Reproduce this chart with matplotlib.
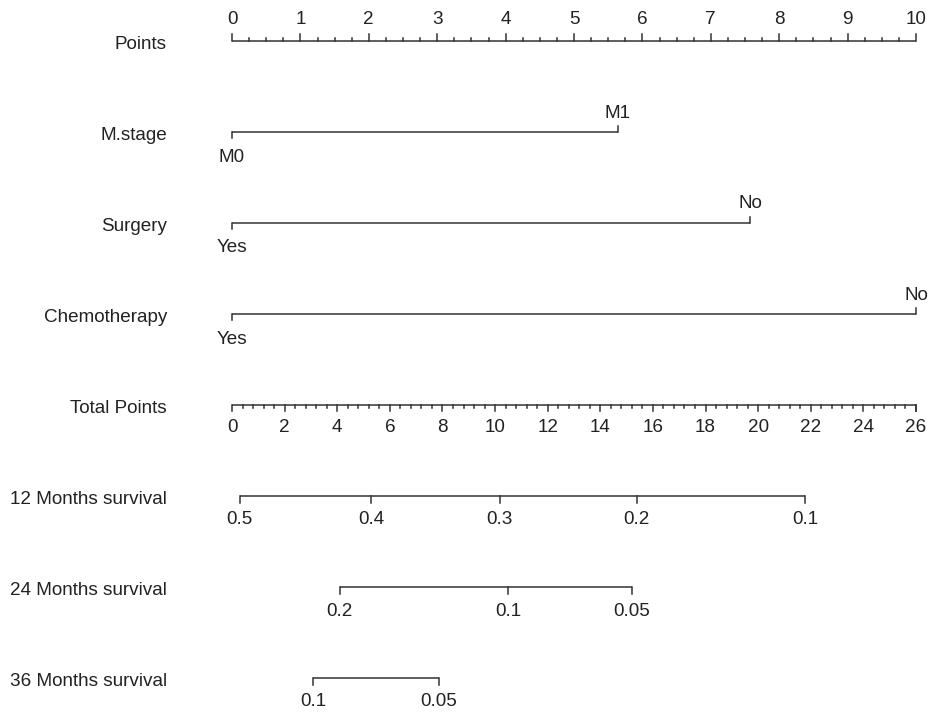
import numpy as np
import matplotlib.pyplot as plt

plt.rcParams['font.family'] = ['Liberation Sans', 'DejaVu Sans']

# nomogram data (points scale 0-10, total points scale 0-26)
row_names = ['Points', 'M.stage', 'Surgery', 'Chemotherapy', 'Total Points',
             '12 Months survival', '24 Months survival', '36 Months survival']

points_ticks = np.arange(0, 11)
total_ticks = np.arange(0, 27, 2)

mstage_levels = ['M0', 'M1']
mstage_points = [0, 5.64]
surgery_levels = ['Yes', 'No']
surgery_points = [0, 7.58]
chemo_levels = ['Yes', 'No']
chemo_points = [0, 10]

surv12_labels = ['0.5', '0.4', '0.3', '0.2', '0.1']
surv12_total = [0.29, 5.28, 10.18, 15.38, 21.78]
surv24_labels = ['0.2', '0.1', '0.05']
surv24_total = [4.09, 10.49, 15.2]
surv36_labels = ['0.1', '0.05']
surv36_total = [3.08, 7.86]

W, H = 935, 715
fig = plt.figure(figsize=(W / 100, H / 100), dpi=100)
# axes spans Points 0..10 horizontally, row 0..7 vertically
ax = fig.add_axes([232 / W, 1 - 678 / H, (916 - 232) / W, (678 - 41) / H])
ax.set_xlim(0, 10)
ax.set_ylim(7, 0)
ax.axis('off')

lc = '#333333'
tc = '#222222'
fs = 13.6
lw = 1.1
px = 7 / 637  # one pixel in row units
tot2pts = 10 / 26


def hline(y, x0, x1):
	ax.plot([x0, x1], [y, y], color=lc, lw=lw, clip_on=False, solid_capstyle='butt')


def tick(y, x, length):
	ax.plot([x, x], [y, y + length * px], color=lc, lw=lw, clip_on=False)


def label(y, x, s, dy):
	ax.text(x, y + dy * px, s, ha='center', va='center', fontsize=fs, color=tc, clip_on=False)


# row names
for i, name in enumerate(row_names):
	ax.text(-(232 - 167) / 68.4, i + 3.5 * px, name, ha='right', va='center',
			fontsize=fs, color=tc, clip_on=False)

# Points axis
hline(0, 0, 10)
for v in np.arange(0, 10.01, 0.25):
	major = abs(v - round(v)) < 1e-9
	tick(0, v, -7 if major else -3.5)
for v in points_ticks:
	label(0, v, str(v), -21)

# categorical variables
for row, levels, pts in [(1, mstage_levels, mstage_points),
						 (2, surgery_levels, surgery_points),
						 (3, chemo_levels, chemo_points)]:
	hline(row, pts[0], pts[-1])
	tick(row, pts[0], 6)
	tick(row, pts[-1], -6)
	label(row, pts[0], levels[0], 25)
	label(row, pts[-1], levels[-1], -19)

# Total points axis
hline(4, 0, 26 * tot2pts)
for v in np.arange(0, 26.01, 0.4):
	major = abs(v / 2 - round(v / 2)) < 1e-6
	tick(4, v * tot2pts, 6 if major else 3)
tick(4, 26 * tot2pts, 6)
for v in total_ticks:
	label(4, v * tot2pts, str(v), 23)

# survival axes
for row, labs, tots in [(5, surv12_labels, surv12_total),
						(6, surv24_labels, surv24_total),
						(7, surv36_labels, surv36_total)]:
	xs = [t * tot2pts for t in tots]
	hline(row, xs[0], xs[-1])
	for x, s in zip(xs, labs):
		tick(row, x, 7)
		label(row, x, s, 24)

fig.savefig('out.png', dpi=100, facecolor='white')
